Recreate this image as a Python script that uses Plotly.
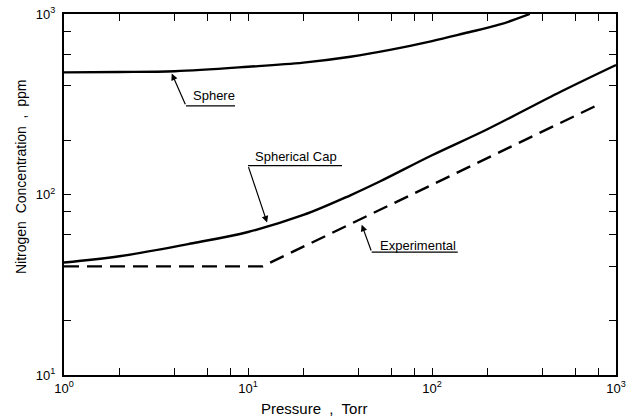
import math
import plotly.graph_objects as go

# Data
sphere_p = [1, 2, 4, 10, 20, 36, 60, 100, 150, 234, 340]
sphere_c = [475, 477, 482, 510, 538, 580, 635, 708, 782, 875, 1000]

cap_p = [1, 2, 5, 10, 20, 36, 52, 100, 200, 500, 1000]
cap_c = [42, 45.5, 53.7, 62, 77, 99, 118, 165, 230, 371, 522]

exp_p = [1, 12, 830]
exp_c = [40, 40, 320]

x_major = [1, 10, 100, 1000]
x_major_text = ["10<sup>0</sup>", "10<sup>1</sup>", "10<sup>2</sup>", "10<sup>3</sup>"]
y_major = [10, 100, 1000]
y_major_text = ["10<sup>1</sup>", "10<sup>2</sup>", "10<sup>3</sup>"]
x_minor = [m * d for d in (1, 10, 100) for m in (2, 4, 6, 8)]
y_minor = [m * d for d in (10, 100) for m in (2, 4, 6, 8)]

FONT = "Liberation Sans, Arial, sans-serif"
INK = "black"


def ticks(major, major_text, minor):
    vals = sorted(major + minor)
    text = [major_text[major.index(v)] if v in major else "" for v in vals]
    return vals, text


fig = go.Figure()
fig.add_trace(go.Scatter(x=sphere_p, y=sphere_c, mode="lines", line=dict(color=INK, width=2.4, shape="spline"), name="Sphere"))
fig.add_trace(go.Scatter(x=cap_p, y=cap_c, mode="lines", line=dict(color=INK, width=2.4, shape="spline"), name="Spherical Cap"))
fig.add_trace(go.Scatter(x=exp_p, y=exp_c, mode="lines", line=dict(color=INK, width=2.4, dash="15px,8px"), name="Experimental"))

# Labels with underline + leader arrow: (text, text_x, text_y, underline_x0, underline_x1, underline_y, tip_x, tip_y)
labels = [
    ("Sphere", 4.9, 352, 4.6, 8.5, 310, 3.85, 468),
    ("Spherical Cap", 10.6, 162, 10.0, 32.4, 144.6, 12.7, 70),
    ("Experimental", 50.9, 52.5, 47.0, 138, 48.0, 41.5, 68),
]
for txt, tx, ty, u0, u1, uy, ax_, ay_ in labels:
    fig.add_annotation(x=math.log10(tx), y=math.log10(ty), xref="x", yref="y", text=txt, showarrow=False,
                       xanchor="left", yanchor="middle", font=dict(family=FONT, size=13, color=INK))
    fig.add_shape(type="line", xref="x", yref="y", x0=u0, x1=u1, y0=uy, y1=uy,
                  line=dict(color=INK, width=1.3))
    fig.add_annotation(x=math.log10(ax_), y=math.log10(ay_), xref="x", yref="y",
                       ax=math.log10(u0), ay=math.log10(uy), axref="x", ayref="y",
                       text="", showarrow=True, arrowhead=2, arrowsize=1.1, arrowwidth=1.2,
                       arrowcolor=INK, standoff=0, startstandoff=0)

# Axis titles
fig.add_annotation(x=0.453, y=-0.092, xref="paper", yref="paper", text="Pressure  ,  Torr",
                   showarrow=False, xanchor="center", yanchor="middle",
                   font=dict(family=FONT, size=15, color=INK))
fig.add_annotation(x=-0.078, y=0.551, xref="paper", yref="paper", text="Nitrogen  Concentration  ,  ppm",
                   showarrow=False, xanchor="center", yanchor="middle", textangle=-90,
                   font=dict(family=FONT, size=14, color=INK))

axis_common = dict(
    type="log", showgrid=False, zeroline=False, showline=True, linecolor=INK, linewidth=2,
    mirror="ticks", ticks="inside", ticklen=7, tickwidth=1.4, tickcolor=INK, automargin=False,
    tickfont=dict(family=FONT, size=13, color=INK),
)

xv, xt = ticks(x_major, x_major_text, x_minor)
yv, yt = ticks(y_major, y_major_text, y_minor)
fig.update_xaxes(**axis_common, range=[0, 3], tickvals=xv, ticktext=xt)
fig.update_yaxes(**axis_common, range=[1, 3], tickvals=yv, ticktext=yt, ticklabelstandoff=4)

fig.update_layout(
    width=632, height=418,
    margin=dict(l=64, r=16, t=14, b=43),
    plot_bgcolor="white", paper_bgcolor="white",
    showlegend=False,
)

fig.write_html("out.html", config={"displayModeBar": False},
               post_script="document.body.style.margin='0px';document.body.style.overflow='hidden';")
